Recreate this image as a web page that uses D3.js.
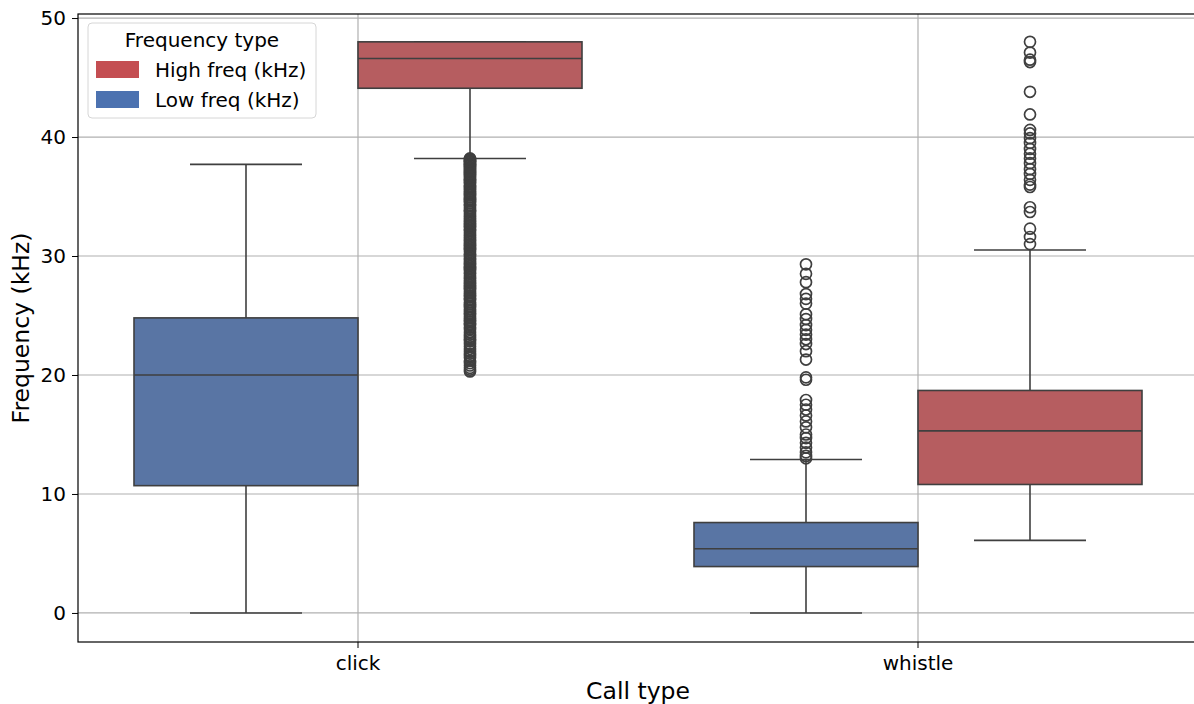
<!DOCTYPE html>
<html>
<head>
<meta charset="utf-8">
<script src="https://cdn.jsdelivr.net/npm/d3@7"></script>
<style>
  body { margin: 0; background: #fff; }
  text { font-family: "DejaVu Sans", sans-serif; fill: #000; }
</style>
</head>
<body>
<div id="chart"></div>
<script>
// data
var callTypes = ["click", "whistle"];
var freqTypes = ["Low freq (kHz)", "High freq (kHz)"];
var legendOrder = ["High freq (kHz)", "Low freq (kHz)"];
var yTicks = [0, 10, 20, 30, 40, 50];

// [whiskerLow, q1, median, q3, whiskerHigh]
var clickLow = [0, 10.7, 20.0, 24.8, 37.7];
var clickHigh = [38.2, 44.1, 46.6, 48.0, 48.0];
var whistleLow = [0, 3.9, 5.4, 7.6, 12.9];
var whistleHigh = [6.1, 10.8, 15.3, 18.7, 30.5];

var clickLowOut = [];
var clickHighOut = [38.2, 38.15, 38.1, 38.0, 37.95, 37.9, 37.8, 37.7, 37.65, 37.6, 37.5, 37.4, 37.3,
  37.2, 37.1, 37.05, 36.9, 36.8, 36.7, 36.6, 36.5, 36.4, 36.3, 36.2, 36.05, 35.9, 35.8, 35.7, 35.6,
  35.45, 35.3, 35.2, 35.1, 34.95, 34.8, 34.7, 34.6, 34.45, 34.3, 34.2, 34.05, 33.9, 33.8, 33.7,
  33.55, 33.4, 33.3, 33.15, 33.0, 32.9, 32.75, 32.6, 32.5, 32.35, 32.2, 32.1, 31.95, 31.8, 31.7,
  31.55, 31.4, 31.3, 31.15, 31.0, 30.9, 30.75, 30.6, 30.5, 30.35, 30.2, 30.1, 29.95, 29.8, 29.7,
  29.55, 29.4, 29.3, 29.15, 29.0, 28.9, 28.75, 28.6, 28.5, 28.35, 28.2, 28.1, 27.95, 27.8, 27.7,
  27.55, 27.4, 27.3, 27.15, 27.0, 26.85, 26.7, 26.55, 26.4, 26.3, 26.1, 25.95, 25.8, 25.7, 25.5,
  25.35, 25.2, 25.05, 24.9, 24.75, 24.6, 24.45, 24.3, 24.2, 24.0, 23.85, 23.6, 23.4, 23.2, 23.0,
  22.85, 22.6, 22.4, 22.2, 22.0, 21.8, 21.6, 21.45, 21.2, 21.0, 20.8, 20.6, 20.45, 20.3];
var whistleLowOut = [29.3, 28.5, 27.8, 26.8, 26.4, 26.0, 25.1, 24.7, 24.2, 23.8, 23.4, 23.0, 22.6,
  22.0, 21.3, 19.8, 19.6, 17.9, 17.5, 17.1, 16.6, 16.1, 15.6, 15.0, 14.7, 14.3, 13.9, 13.5, 13.2, 13.0];
var whistleHighOut = [48.0, 47.1, 46.5, 46.3, 43.8, 41.9, 40.6, 40.3, 39.9, 39.5, 39.0, 38.6, 38.2,
  37.8, 37.3, 36.9, 36.4, 36.0, 35.8, 34.1, 33.7, 32.3, 31.6, 31.0];

var colors = { "Low freq (kHz)": "#5975a4", "High freq (kHz)": "#b65d60" };
var legendColors = { "Low freq (kHz)": "#4c72b0", "High freq (kHz)": "#c44e52" };

var boxes = [
  { call: "click", freq: "Low freq (kHz)", stats: clickLow, out: clickLowOut },
  { call: "click", freq: "High freq (kHz)", stats: clickHigh, out: clickHighOut },
  { call: "whistle", freq: "Low freq (kHz)", stats: whistleLow, out: whistleLowOut },
  { call: "whistle", freq: "High freq (kHz)", stats: whistleHigh, out: whistleHighOut }
];

var svgWidth = 1194;
var svgHeight = 704;
var margin = { top: 14, left: 78 };
var plotRight = 1198;
var plotBottom = 642;

var svg = d3.select("#chart").append("svg")
  .attr("width", svgWidth)
  .attr("height", svgHeight);

var x = d3.scaleBand()
  .domain(callTypes)
  .range([margin.left, plotRight])
  .padding(0);

var xInner = d3.scaleBand()
  .domain(freqTypes)
  .range([x.bandwidth() * 0.1, x.bandwidth() * 0.9])
  .padding(0);

var y = d3.scaleLinear()
  .domain([-2.44, 50.34])
  .range([plotBottom, margin.top]);

var edge = "#3f3f3f";

// grid
var grid = svg.append("g");
grid.selectAll("line.gy").data(yTicks).enter().append("line")
  .attr("x1", margin.left).attr("x2", plotRight)
  .attr("y1", d => y(d)).attr("y2", d => y(d))
  .attr("stroke", "#b0b0b0").attr("stroke-width", 1.2);
grid.selectAll("line.gx").data(callTypes).enter().append("line")
  .attr("x1", d => x(d) + x.bandwidth() / 2).attr("x2", d => x(d) + x.bandwidth() / 2)
  .attr("y1", margin.top).attr("y2", plotBottom)
  .attr("stroke", "#b0b0b0").attr("stroke-width", 1.2);

// boxes
var g = svg.append("g");
boxes.forEach(function(b) {
  var x0 = x(b.call) + xInner(b.freq);
  var w = xInner.bandwidth();
  var cx = x0 + w / 2;
  var s = b.stats;
  var grp = g.append("g");

  grp.append("line")
    .attr("x1", cx).attr("x2", cx)
    .attr("y1", y(s[0])).attr("y2", y(s[1]))
    .attr("stroke", edge).attr("stroke-width", 1.6);
  grp.append("line")
    .attr("x1", cx).attr("x2", cx)
    .attr("y1", y(s[3])).attr("y2", y(s[4]))
    .attr("stroke", edge).attr("stroke-width", 1.6);
  [s[0], s[4]].forEach(function(v) {
    grp.append("line")
      .attr("x1", cx - w / 4).attr("x2", cx + w / 4)
      .attr("y1", y(v)).attr("y2", y(v))
      .attr("stroke", edge).attr("stroke-width", 1.6);
  });

  grp.append("rect")
    .attr("x", x0).attr("width", w)
    .attr("y", y(s[3])).attr("height", y(s[1]) - y(s[3]))
    .attr("fill", colors[b.freq])
    .attr("stroke", edge).attr("stroke-width", 1.6);
  grp.append("line")
    .attr("x1", x0).attr("x2", x0 + w)
    .attr("y1", y(s[2])).attr("y2", y(s[2]))
    .attr("stroke", edge).attr("stroke-width", 1.6);

  grp.selectAll("circle").data(b.out).enter().append("circle")
    .attr("cx", cx)
    .attr("cy", d => y(d))
    .attr("r", 5.5)
    .attr("fill", "none")
    .attr("stroke", edge)
    .attr("stroke-width", 1.7);
});

// axes
var leftAxis = d3.axisLeft(y).tickValues(yTicks).tickSize(6).tickPadding(6);
var yAxisG = svg.append("g")
  .attr("transform", `translate(${margin.left}, 0)`)
  .call(leftAxis);
yAxisG.select(".domain").remove();
yAxisG.selectAll("text").style("font-size", "20px").style("font-family", "DejaVu Sans");

var bottomAxis = d3.axisBottom(x).tickSize(6).tickPadding(8);
var xAxisG = svg.append("g")
  .attr("transform", `translate(0, ${plotBottom})`)
  .call(bottomAxis);
xAxisG.select(".domain").remove();
xAxisG.selectAll("text").style("font-size", "20px").style("font-family", "DejaVu Sans");

// spines
svg.append("rect")
  .attr("x", margin.left).attr("y", margin.top)
  .attr("width", plotRight - margin.left).attr("height", plotBottom - margin.top)
  .attr("fill", "none").attr("stroke", "#000").attr("stroke-width", 1.2);

// axis labels
svg.append("text")
  .attr("transform", `translate(29, ${(margin.top + plotBottom) / 2}) rotate(-90)`)
  .attr("text-anchor", "middle")
  .style("font-size", "23.5px")
  .text("Frequency (kHz)");

svg.append("text")
  .attr("x", (margin.left + plotRight) / 2)
  .attr("y", 699)
  .attr("text-anchor", "middle")
  .style("font-size", "23.5px")
  .text("Call type");

// legend
var legend = svg.append("g").attr("transform", "translate(88, 23)");
legend.append("rect")
  .attr("width", 228).attr("height", 95)
  .attr("rx", 4)
  .attr("fill", "#fff").attr("fill-opacity", 0.8)
  .attr("stroke", "#d6d6d6");
legend.append("text")
  .attr("x", 114).attr("y", 24)
  .attr("text-anchor", "middle")
  .style("font-size", "20px")
  .text("Frequency type");
legendOrder.forEach(function(k, i) {
  legend.append("rect")
    .attr("x", 8).attr("y", 38 + i * 30)
    .attr("width", 43).attr("height", 17)
    .attr("fill", legendColors[k]);
  legend.append("text")
    .attr("x", 67).attr("y", 54 + i * 30)
    .style("font-size", "20px")
    .text(k);
});
</script>
</body>
</html>
